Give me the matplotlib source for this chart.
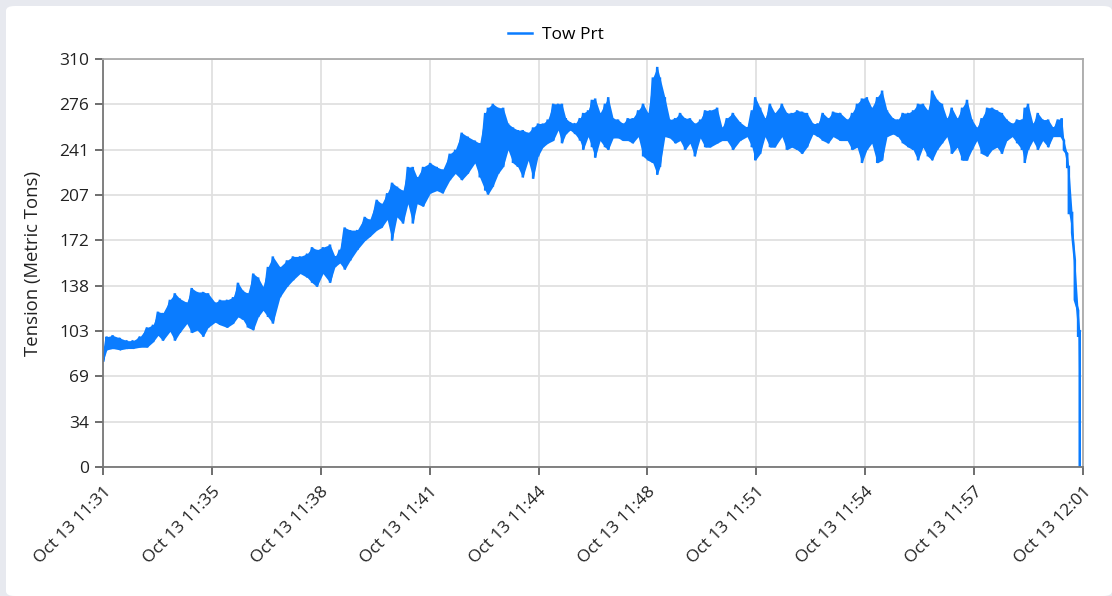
#!/usr/bin/env python3
import numpy as np
import pandas as pd
import matplotlib
matplotlib.use('Agg')
import matplotlib.pyplot as plt
import matplotlib.ticker as mticker
import matplotlib.dates as mdates
from matplotlib.patches import FancyBboxPatch

plt.rcParams['font.family'] = ['Open Sans', 'DejaVu Sans']

# 凡例・軸ラベル
series_name = 'Tow Prt'
y_label = 'Tension (Metric Tons)'

# x軸目盛ラベル
x_tick_labels = ['Oct 13 11:31', 'Oct 13 11:35', 'Oct 13 11:38', 'Oct 13 11:41',
                 'Oct 13 11:44', 'Oct 13 11:48', 'Oct 13 11:51', 'Oct 13 11:54',
                 'Oct 13 11:57', 'Oct 13 12:01']
# y軸目盛ラベル
y_tick_labels = ['0', '34', '69', '103', '138', '172', '207', '241', '276', '310']
y_max = 310
t_total = 1800  # 秒 (11:31 - 12:01)
t_start = pd.Timestamp('2021-10-13 11:31:00')

# 経過秒
elapsed_s = [0, 7, 18, 31, 44, 55, 68, 81, 92, 101, 110, 123, 132, 141, 154, 163,
             173, 184, 193, 206, 215, 228, 239, 248, 257, 266, 276, 285, 294, 303,
             312, 325, 338, 349, 362, 375, 384, 393, 404, 417, 426, 435, 444, 454,
             467, 481, 490, 503, 512, 522, 531, 540, 551, 560, 569, 577, 588, 601,
             613, 624, 637, 647, 659, 670, 683, 692, 702, 707, 716, 726, 735, 744,
             753, 762, 771, 781, 790, 799, 808, 817, 827, 836, 843, 850, 858, 867,
             876, 882, 891, 898, 904, 913, 922, 928, 937, 946, 955, 964, 973, 983,
             992, 1001, 1010, 1018, 1023, 1032, 1041, 1051, 1060, 1069, 1078, 1087,
             1097, 1106, 1115, 1128, 1137, 1146, 1157, 1170, 1183, 1192, 1198, 1207,
             1216, 1225, 1234, 1247, 1256, 1265, 1275, 1284, 1293, 1304, 1313, 1322,
             1332, 1341, 1354, 1367, 1376, 1385, 1394, 1403, 1412, 1422, 1431, 1440,
             1451, 1460, 1469, 1479, 1488, 1497, 1506, 1515, 1523, 1532, 1541, 1550,
             1559, 1569, 1578, 1587, 1596, 1605, 1614, 1624, 1633, 1642, 1651, 1660,
             1670, 1679, 1688, 1693, 1699, 1708, 1717, 1726, 1736, 1745, 1754, 1761,
             1765, 1771, 1774, 1780, 1785, 1791, 1794]
# 張力の上側 (読み取り値)
tension_hi = [82, 99, 100, 98, 96, 96, 99, 106, 108, 118, 117, 127, 132, 128, 125, 136,
              133, 133, 132, 125, 127, 127, 129, 140, 134, 132, 147, 144, 137, 152,
              160, 152, 157, 160, 160, 162, 167, 165, 167, 169, 160, 165, 182, 180,
              180, 190, 188, 203, 200, 208, 216, 213, 210, 228, 228, 220, 228, 231,
              228, 226, 238, 241, 254, 251, 248, 246, 269, 273, 276, 273, 273, 261,
              258, 256, 256, 254, 258, 261, 261, 264, 276, 276, 276, 265, 262, 261,
              265, 269, 271, 279, 280, 269, 276, 281, 265, 264, 261, 265, 265, 271,
              276, 269, 296, 304, 296, 281, 264, 265, 269, 265, 265, 261, 264, 271,
              271, 273, 258, 265, 269, 262, 258, 271, 281, 273, 265, 276, 269, 276,
              269, 269, 271, 270, 269, 261, 261, 269, 265, 270, 269, 264, 269, 276,
              280, 281, 273, 281, 286, 271, 265, 264, 269, 269, 271, 276, 276, 271,
              286, 279, 276, 265, 273, 265, 273, 279, 264, 258, 265, 273, 273, 271,
              269, 264, 261, 264, 264, 273, 276, 261, 269, 264, 264, 258, 264, 265,
              248, 238, 228, 193, 157, 119, 104]
# 張力の下側 (読み取り値)
tension_lo = [80, 89, 90, 89, 90, 90, 91, 91, 95, 100, 96, 103, 96, 102, 109, 102,
              104, 99, 106, 110, 108, 106, 109, 114, 112, 106, 104, 114, 119, 114,
              109, 129, 137, 142, 147, 144, 140, 137, 147, 140, 152, 155, 150, 157,
              165, 172, 175, 180, 182, 188, 172, 190, 185, 200, 185, 200, 198, 208,
              210, 208, 218, 223, 218, 223, 231, 220, 210, 207, 213, 223, 228, 241,
              231, 228, 220, 233, 219, 236, 243, 246, 248, 256, 246, 253, 256, 253,
              248, 241, 251, 243, 235, 248, 243, 241, 250, 250, 248, 248, 246, 251,
              236, 233, 231, 222, 228, 251, 250, 246, 248, 241, 246, 236, 250, 243,
              243, 246, 248, 248, 241, 248, 251, 243, 233, 238, 251, 243, 243, 251,
              241, 243, 241, 238, 243, 253, 251, 248, 246, 251, 248, 248, 241, 243,
              231, 241, 246, 231, 233, 251, 253, 251, 246, 243, 241, 233, 243, 236,
              233, 241, 246, 251, 238, 243, 233, 233, 241, 248, 238, 236, 241, 243,
              238, 248, 251, 246, 241, 231, 241, 248, 241, 248, 243, 251, 251, 251,
              241, 228, 193, 178, 127, 99, 0]

assert len(elapsed_s) == len(tension_hi) == len(tension_lo), \
    (len(elapsed_s), len(tension_hi), len(tension_lo))

line_color = '#0a7cff'
font_size = 12.5

# 上側・下側を交互に並べて一本の線にする
t_line = []
v_line = []
for t, hi, lo in zip(elapsed_s, tension_hi, tension_lo):
    t_line += [t, t]
    v_line += [hi, lo]
times = t_start + pd.to_timedelta(np.array(t_line), unit='s')
env_times = t_start + pd.to_timedelta(np.array(elapsed_s), unit='s')

# 作図
fig = plt.figure(figsize=(11.12, 5.96), dpi=100)
fig.patch.set_facecolor('#e7e9ef')
card = FancyBboxPatch((6 / 1112, 0), 1 - 6 / 1112, 1 - 6 / 596,
                      boxstyle='round,pad=0,rounding_size=0.008',
                      transform=fig.transFigure, facecolor='white',
                      edgecolor='none', zorder=-10)
fig.patches.append(card)

ax = fig.add_axes([103 / 1112, 1 - 467 / 596, 980 / 1112, 408 / 596])
ax.patch.set_alpha(0)
# 変動幅を塗りつぶし
ax.fill_between(env_times, tension_lo, tension_hi, color=line_color, lw=0)
ax.plot(times, v_line, color=line_color, lw=1.8, label=series_name,
        solid_joinstyle='miter')

# 軸範囲
ax.set_xlim(t_start, t_start + pd.Timedelta(seconds=t_total))
ax.set_ylim(0, y_max)

# 目盛
x_ticks = [t_start + pd.Timedelta(seconds=s)
           for s in np.linspace(0, t_total, len(x_tick_labels))]
ax.xaxis.set_major_locator(mticker.FixedLocator(mdates.date2num(x_ticks)))
ax.set_xticklabels(x_tick_labels, rotation=45, ha='right', va='top',
                   rotation_mode='anchor', fontsize=font_size, color='#222222')
ax.yaxis.set_major_locator(mticker.FixedLocator(
    np.linspace(0, y_max, len(y_tick_labels))))
ax.set_yticklabels(y_tick_labels, fontsize=font_size, color='#222222')
ax.tick_params(axis='both', direction='out', length=6, width=1.2,
               color='#555555')
ax.tick_params(axis='x', pad=6)
ax.tick_params(axis='y', pad=4)

# グリッド・枠
ax.grid(True, color='#e0e0e0', lw=1.3)
ax.set_axisbelow(True)
for side in ['left', 'bottom']:
    ax.spines[side].set_color('#777777')
    ax.spines[side].set_linewidth(1.3)
for side in ['top', 'right']:
    ax.spines[side].set_color('#aaaaaa')
    ax.spines[side].set_linewidth(1.3)

ax.set_ylabel(y_label, fontsize=13.3, color='#222222', labelpad=12)

# 凡例 (図全体の中央)
handles, labels = ax.get_legend_handles_labels()
fig.legend(handles, labels, loc='center', bbox_to_anchor=(0.5, 1 - 35 / 596),
           frameon=False, fontsize=font_size, handlelength=1.4,
           handletextpad=0.6)

plt.savefig('out.png', dpi=100, facecolor=fig.get_facecolor())
plt.close()
